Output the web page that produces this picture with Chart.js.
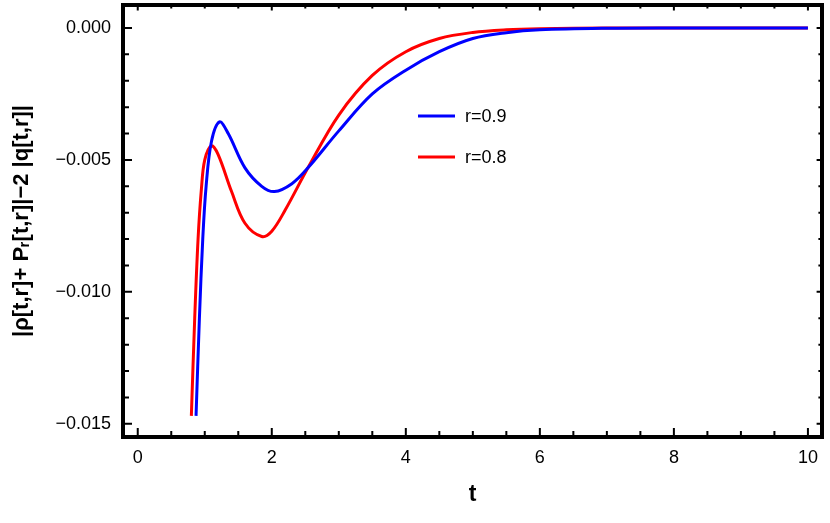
<!DOCTYPE html>
<html><head><meta charset="utf-8">
<script src="https://cdn.jsdelivr.net/npm/chart.js@4"></script>
<style>body{margin:0;background:#fff}#w{width:830px;height:523px}</style>
</head><body><div id="w"><canvas id="c"></canvas></div>
<script>
const tRed=[0.8,0.85,0.9,0.95,1.0,1.1,1.2,1.4,1.6,1.85,2.0,2.2,2.54,3,3.5,4,4.5,5,5.5,6,7,8,10];
const vRed=[-0.0147,-0.0110,-0.0080,-0.0061,-0.0050,-0.00447,-0.0048,-0.0062,-0.0074,-0.0079,-0.0077,-0.0069,-0.0053,-0.0033,-0.0018,-0.0009,-0.0004,-0.00017,-0.00007,-0.00003,-0.000005,0,0];
const tBlue=[0.87,0.92,0.97,1.02,1.1,1.22,1.35,1.6,1.85,2.04,2.3,2.54,3,3.5,4,4.5,5,5.5,6,7,8,10];
const vBlue=[-0.0147,-0.0110,-0.0080,-0.0060,-0.0043,-0.00356,-0.0040,-0.0053,-0.0060,-0.0062,-0.0059,-0.0053,-0.0039,-0.0025,-0.0016,-0.0009,-0.0004,-0.00018,-0.00007,-0.00001,0,0];
const xTicks=[0,2,4,6,8,10];
const yTicks=[-0.015,-0.010,-0.005,0.000];
const yLabels=["\u22120.015","\u22120.010","\u22120.005","0.000"];
const xLabels=["0","2","4","6","8","10"];
const pts=(t,v)=>t.map((x,i)=>({x:x,y:v[i]}));
const deco={id:'deco',afterDraw(ch){
 const c=ch.ctx,a=ch.chartArea,xs=ch.scales.x,ys=ch.scales.y;
 c.save();c.strokeStyle='#000';c.fillStyle='#000';
 c.lineWidth=4;c.strokeRect(a.left,a.top,a.right-a.left,a.bottom-a.top);
 c.lineWidth=2;
 for(let i=0;i<=20;i++){const v=i*0.5,p=xs.getPixelForValue(v),L=(i%4==0)?9:6;
  c.beginPath();c.moveTo(p,a.bottom);c.lineTo(p,a.bottom-L);c.moveTo(p,a.top);c.lineTo(p,a.top+L*0.6);c.stroke();}
 for(let i=0;i<=15;i++){const v=-i*0.001,p=ys.getPixelForValue(v),L=(i%5==0)?9:6;
  c.beginPath();c.moveTo(a.left,p);c.lineTo(a.left+L,p);c.moveTo(a.right,p);c.lineTo(a.right-L*0.6,p);c.stroke();}
 c.font='18px "Liberation Sans", Arial';c.textAlign='center';c.textBaseline='top';
 xTicks.forEach((v,i)=>c.fillText(xLabels[i],xs.getPixelForValue(v),a.bottom+12));
 c.textAlign='right';c.textBaseline='middle';
 yTicks.forEach((v,i)=>c.fillText(yLabels[i],a.left-12,ys.getPixelForValue(v)));
 c.font='bold 23px "Liberation Sans", Arial';c.textAlign='center';c.textBaseline='middle';
 c.fillText('t',(a.left+a.right)/2,495);
 c.save();c.translate(22,(a.top+a.bottom)/2);c.rotate(-Math.PI/2);
 c.font='bold 22px "Liberation Sans", Arial';
 c.fillText('|\u03c1[t,r]+ P\u1d63[t,r]|\u22122 |q[t,r]|',0,0);c.restore();
 ch.data.datasets.forEach((d,i)=>{const y=116+i*41;c.strokeStyle=d.borderColor;c.lineWidth=3;
  c.beginPath();c.moveTo(418,y);c.lineTo(455,y);c.stroke();
  c.fillStyle='#000';c.font='18px "Liberation Sans", Arial';c.textAlign='left';c.fillText(d.label,465,y+1);});
 c.restore();}};
new Chart(document.getElementById('c'),{type:'line',
 data:{datasets:[
  {label:'r=0.9',data:pts(tBlue,vBlue),borderColor:'#0000ff',borderWidth:3,pointRadius:0,tension:0.35},
  {label:'r=0.8',data:pts(tRed,vRed),borderColor:'#ff0000',borderWidth:3,pointRadius:0,tension:0.35}]},
 options:{responsive:true,maintainAspectRatio:false,animation:false,
  layout:{padding:{left:123,top:5,right:8,bottom:86}},
  plugins:{legend:{display:false},tooltip:{enabled:false}},
  scales:{x:{type:'linear',min:-0.22,max:10.21,display:false},
          y:{type:'linear',min:-0.0155,max:0.00087,display:false}}},
 plugins:[deco]});
</script></body></html>
